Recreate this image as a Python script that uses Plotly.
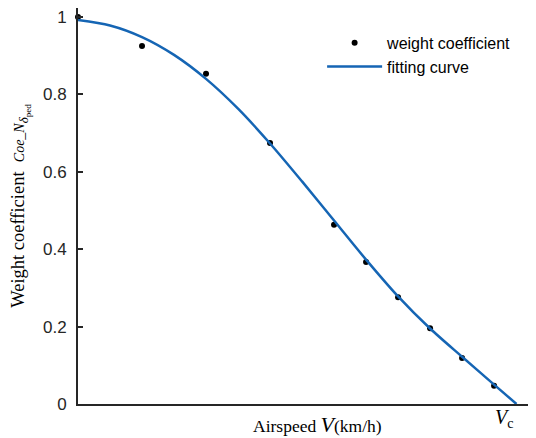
import plotly.graph_objects as go

# Measured weight coefficients
speed = [0, 20, 40, 60, 80, 90, 100, 110, 120, 130]
weight = [1.0, 0.925, 0.853, 0.674, 0.463, 0.367, 0.276, 0.196, 0.119, 0.047]

# Fitting curve
fit_speed = [0, 10, 20, 30, 40, 50, 60, 70, 80, 90, 100, 110, 120, 130, 137]
fit_weight = [0.992, 0.978, 0.948, 0.902, 0.840, 0.763, 0.673, 0.575, 0.474, 0.373,
              0.278, 0.195, 0.122, 0.050, 0.0]

v_critical = 137

y_ticks = [0, 0.2, 0.4, 0.6, 0.8, 1]
y_tick_labels = ["0", "0.2", "0.4", "0.6", "0.8", "1"]

blue = "#1565b4"
axis_color = "#262626"
serif = "Liberation Serif, Times New Roman, serif"
sans = "Liberation Sans, Arial, sans-serif"

fig = go.Figure()
fig.add_trace(go.Scatter(
    x=speed, y=weight, mode="markers", name="weight coefficient",
    marker=dict(color="black", size=6), cliponaxis=False))
fig.add_trace(go.Scatter(
    x=fit_speed, y=fit_weight, mode="lines", name="fitting curve",
    line=dict(color=blue, width=2.5, shape="spline", smoothing=0.8), cliponaxis=False))

# page body has an 8px margin, so the figure is 8px smaller than the window
fig.update_layout(
    width=528, height=430,
    margin=dict(l=70, r=0, t=0, b=34, autoexpand=False),
    plot_bgcolor="white", paper_bgcolor="white",
    showlegend=True,
    legend=dict(x=0.533, y=0.955, xanchor="left", yanchor="top",
                bgcolor="rgba(0,0,0,0)",
                font=dict(family=sans, size=16, color="black"),
                tracegroupgap=0, itemwidth=55),
    font=dict(family=sans, color="black"),
)
fig.update_xaxes(
    range=[0, 143.1], showgrid=False, zeroline=False, automargin=False,
    showline=True, linecolor=axis_color, linewidth=2,
    showticklabels=False, ticks="",
)
fig.update_yaxes(
    range=[0, 1.023], showgrid=False, zeroline=False, automargin=False,
    showline=True, linecolor=axis_color, linewidth=2,
    tickvals=y_ticks, ticktext=y_tick_labels,
    ticks="inside", ticklen=5, tickwidth=1.5, tickcolor=axis_color,
    ticklabelstandoff=6, ticklabeloverflow="allow",
    tickfont=dict(family=sans, size=17, color=axis_color),
    title=dict(text="Weight coefficient  <i><span style='font-size:14px'>Coe</span></i>"
                    "<span style='font-size:14px'>_</span>"
                    "<i><span style='font-size:14px'>N</span></i>"
                    "<sub><i>δ</i><sub>ped</sub></sub>",
               font=dict(family=serif, size=18.5, color="black"),
               standoff=14),
)
# x-axis title (sits slightly right of centre in the original)
fig.add_annotation(
    x=0.524, y=0, xref="paper", yref="paper", yanchor="top", xanchor="center",
    yshift=-6,
    text="Airspeed <i><span style='font-size:22px'>V</span></i>(km/h)", showarrow=False,
    font=dict(family=serif, size=17.5, color="black"))
fig.add_annotation(
    x=v_critical, y=0, xref="x", yref="y", yanchor="top", xanchor="center",
    yshift=0, xshift=-12,
    text="<i>V</i><sub>c</sub>", showarrow=False,
    font=dict(family=serif, size=20, color="black"))

fig.write_html("out.html")
